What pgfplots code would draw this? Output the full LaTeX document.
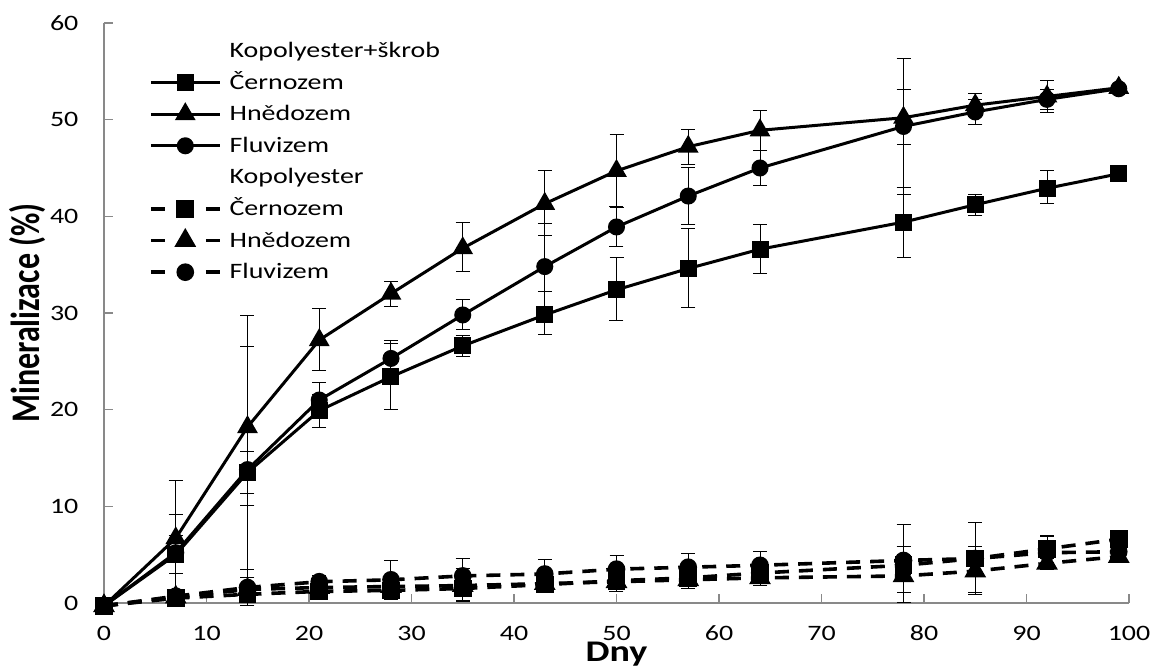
\documentclass[border=0pt]{standalone}
\usepackage{fontspec}
\setmainfont{Carlito}
\newfontfamily\widefont[FakeStretch=1.27]{Carlito}
\usepackage{pgfplots}
\usepackage{pgfplotstable}
\pgfplotsset{compat=1.18}
\definecolor{axisgray}{HTML}{898989}

% day, value, error plus, error minus
\pgfplotstableread{
x y ep em
0 -0.3 0 0
7 5.0 2.0 2.0
14 13.5 2.2 2.2
21 19.9 1.7 1.7
28 23.4 3.4 3.4
35 26.6 1.1 1.1
43 29.8 2.4 2.0
50 32.4 3.3 3.2
57 34.6 4.1 4.0
64 36.6 2.6 2.5
78 39.4 3.6 3.7
85 41.2 1.1 1.1
92 42.9 1.8 1.6
99 44.4 0 0
}\SC
\pgfplotstableread{
x y ep em
0 -0.3 0 0
7 6.7 6.0 6.0
14 18.2 8.3 8.1
21 27.2 3.3 3.2
28 32.0 1.3 1.3
35 36.7 2.7 2.4
43 41.3 3.4 3.3
50 44.7 3.8 3.7
57 47.2 1.8 1.8
64 48.9 2.1 2.1
78 50.2 2.9 2.8
85 51.5 1.2 1.2
92 52.4 1.7 1.7
99 53.3 0 0
}\ST
\pgfplotstableread{
x y ep em
0 -0.3 0 0
7 5.2 4.0 4.0
14 13.8 15.9 11.2
21 21.0 1.8 1.8
28 25.3 1.9 1.9
35 29.8 1.6 1.5
43 34.8 4.5 4.3
50 38.9 2.0 2.0
57 42.1 2.9 2.9
64 45.0 1.8 1.8
78 49.3 7.0 7.0
85 50.8 1.3 1.3
92 52.1 1.0 1.0
99 53.2 0 0
}\SF
\pgfplotstableread{
x y ep em
0 -0.3 0 0
7 0.5 0.8 0.8
14 0.9 0.6 0.6
21 1.2 0.5 0.5
28 1.3 0.6 0.6
35 1.5 1.2 1.2
43 1.9 0.6 0.6
50 2.3 1.1 1.1
57 2.6 1.1 1.1
64 3.1 0.8 0.8
78 3.9 1.0 1.0
85 4.6 3.7 3.7
92 5.6 1.4 1.4
99 6.6 0 0
}\DC
\pgfplotstableread{
x y ep em
0 -0.3 0 0
7 0.6 0.7 0.7
14 1.4 0.5 0.5
21 1.6 0.5 0.5
28 1.7 0.5 0.5
35 1.8 1.8 1.6
43 2.0 0.5 0.5
50 2.2 0.6 0.6
57 2.4 0.6 0.6
64 2.6 0.8 0.8
78 2.8 3.0 2.8
85 3.3 2.5 2.2
92 4.1 0.5 0.5
99 4.8 0 0
}\DT
\pgfplotstableread{
x y ep em
0 -0.3 0 0
7 0.7 0.7 0.7
14 1.6 1.9 1.9
21 2.2 0.6 0.6
28 2.4 2.0 2.0
35 2.8 1.8 1.8
43 3.0 1.5 1.5
50 3.5 1.4 1.4
57 3.7 1.4 1.4
64 3.9 1.4 1.4
78 4.4 3.7 3.3
85 4.6 0.8 0.8
92 5.2 1.7 1.7
99 5.3 0 0
}\DF

\pgfplotsset{
  eb/.style={/pgfplots/error bars/y dir=both, /pgfplots/error bars/y explicit,
    /pgfplots/error bars/error bar style={solid, line width=0.5pt, black},
    /pgfplots/error bars/error mark options={rotate=90, mark size=3.5pt, line width=0.5pt, solid, black}},
  solidser/.style={black, line width=1.5pt, mark options={solid, fill=black}, eb},
  dashser/.style={black, line width=1.8pt, dash pattern=on 7pt off 5pt, mark options={solid, fill=black},
    legend image code/.code={\draw[mark repeat=2,mark phase=2,##1, dash pattern=on 7pt off 20.5pt on 7pt off 30pt] plot coordinates {(0pt,0pt) (17.25pt,0pt) (34.5pt,0pt)};},
    eb},
}

\begin{document}
\begin{tikzpicture}
\begin{axis}[
  at={(0,0)}, anchor=south west,
  scale only axis, width=512.5pt, height=290pt,
  xmin=0, xmax=100, ymin=0, ymax=60,
  xtick={0,10,...,100}, ytick={0,10,...,60},
  axis x line=bottom, axis y line=left,
  axis line style={-, draw=axisgray, line width=0.6pt},
  tick style={draw=axisgray, line width=0.6pt},
  tick align=inside, major tick length=4.5pt,
  clip=false,
  /pgf/number format/assume math mode=true,
  ticklabel style={font=\widefont\fontsize{11}{13}\selectfont},
  xticklabel style={yshift=-7.9pt},
  yticklabel style={xshift=-9.3pt},
  xlabel={Dny}, ylabel={\scalebox{1}[1.27]{Mineralizace (\%)}},
  xlabel style={font=\widefont\bfseries\fontsize{15}{18}\selectfont, at={(axis description cs:0.5,-0.089)}, anchor=center},
  ylabel style={font=\bfseries\fontsize{16}{19}\selectfont, at={(axis description cs:-0.0751,0.5)}, anchor=center},
  legend image code/.code={\draw[mark repeat=2,mark phase=2,#1] plot coordinates {(0pt,0pt) (17.25pt,0pt) (34.5pt,0pt)};},
  legend cell align=left,
  legend style={draw=none, fill=none, inner sep=0pt, outer sep=0pt,
    at={(axis description cs:0.0439,0.979)}, anchor=north west,
    font=\widefont\fontsize{11}{13}\selectfont, row sep=0pt, column sep=4pt,
    nodes={inner xsep=0pt, inner ysep=1.55pt, text height=9.6pt, text depth=3.1pt}},
]
\addlegendimage{empty legend}
\addlegendentry{Kopolyester+škrob}
\addplot[solidser, mark=square*, mark size=3.5pt] table[x=x,y=y,y error plus=ep,y error minus=em]{\SC};
\addlegendentry{Černozem}
\addplot[solidser, mark=triangle*, mark size=4.5pt] table[x=x,y=y,y error plus=ep,y error minus=em]{\ST};
\addlegendentry{Hnědozem}
\addplot[solidser, mark=*, mark size=3.5pt] table[x=x,y=y,y error plus=ep,y error minus=em]{\SF};
\addlegendentry{Fluvizem}
\addlegendimage{empty legend}
\addlegendentry{Kopolyester}
\addplot[dashser, mark=square*, mark size=3.5pt] table[x=x,y=y,y error plus=ep,y error minus=em]{\DC};
\addlegendentry{Černozem}
\addplot[dashser, mark=triangle*, mark size=4.5pt] table[x=x,y=y,y error plus=ep,y error minus=em]{\DT};
\addlegendentry{Hnědozem}
\addplot[dashser, mark=*, mark size=3.5pt] table[x=x,y=y,y error plus=ep,y error minus=em]{\DF};
\addlegendentry{Fluvizem}
\end{axis}
\pgfresetboundingbox
\path (-52pt,-32.5pt) rectangle (524.5pt,301.5pt);
\end{tikzpicture}
\end{document}
